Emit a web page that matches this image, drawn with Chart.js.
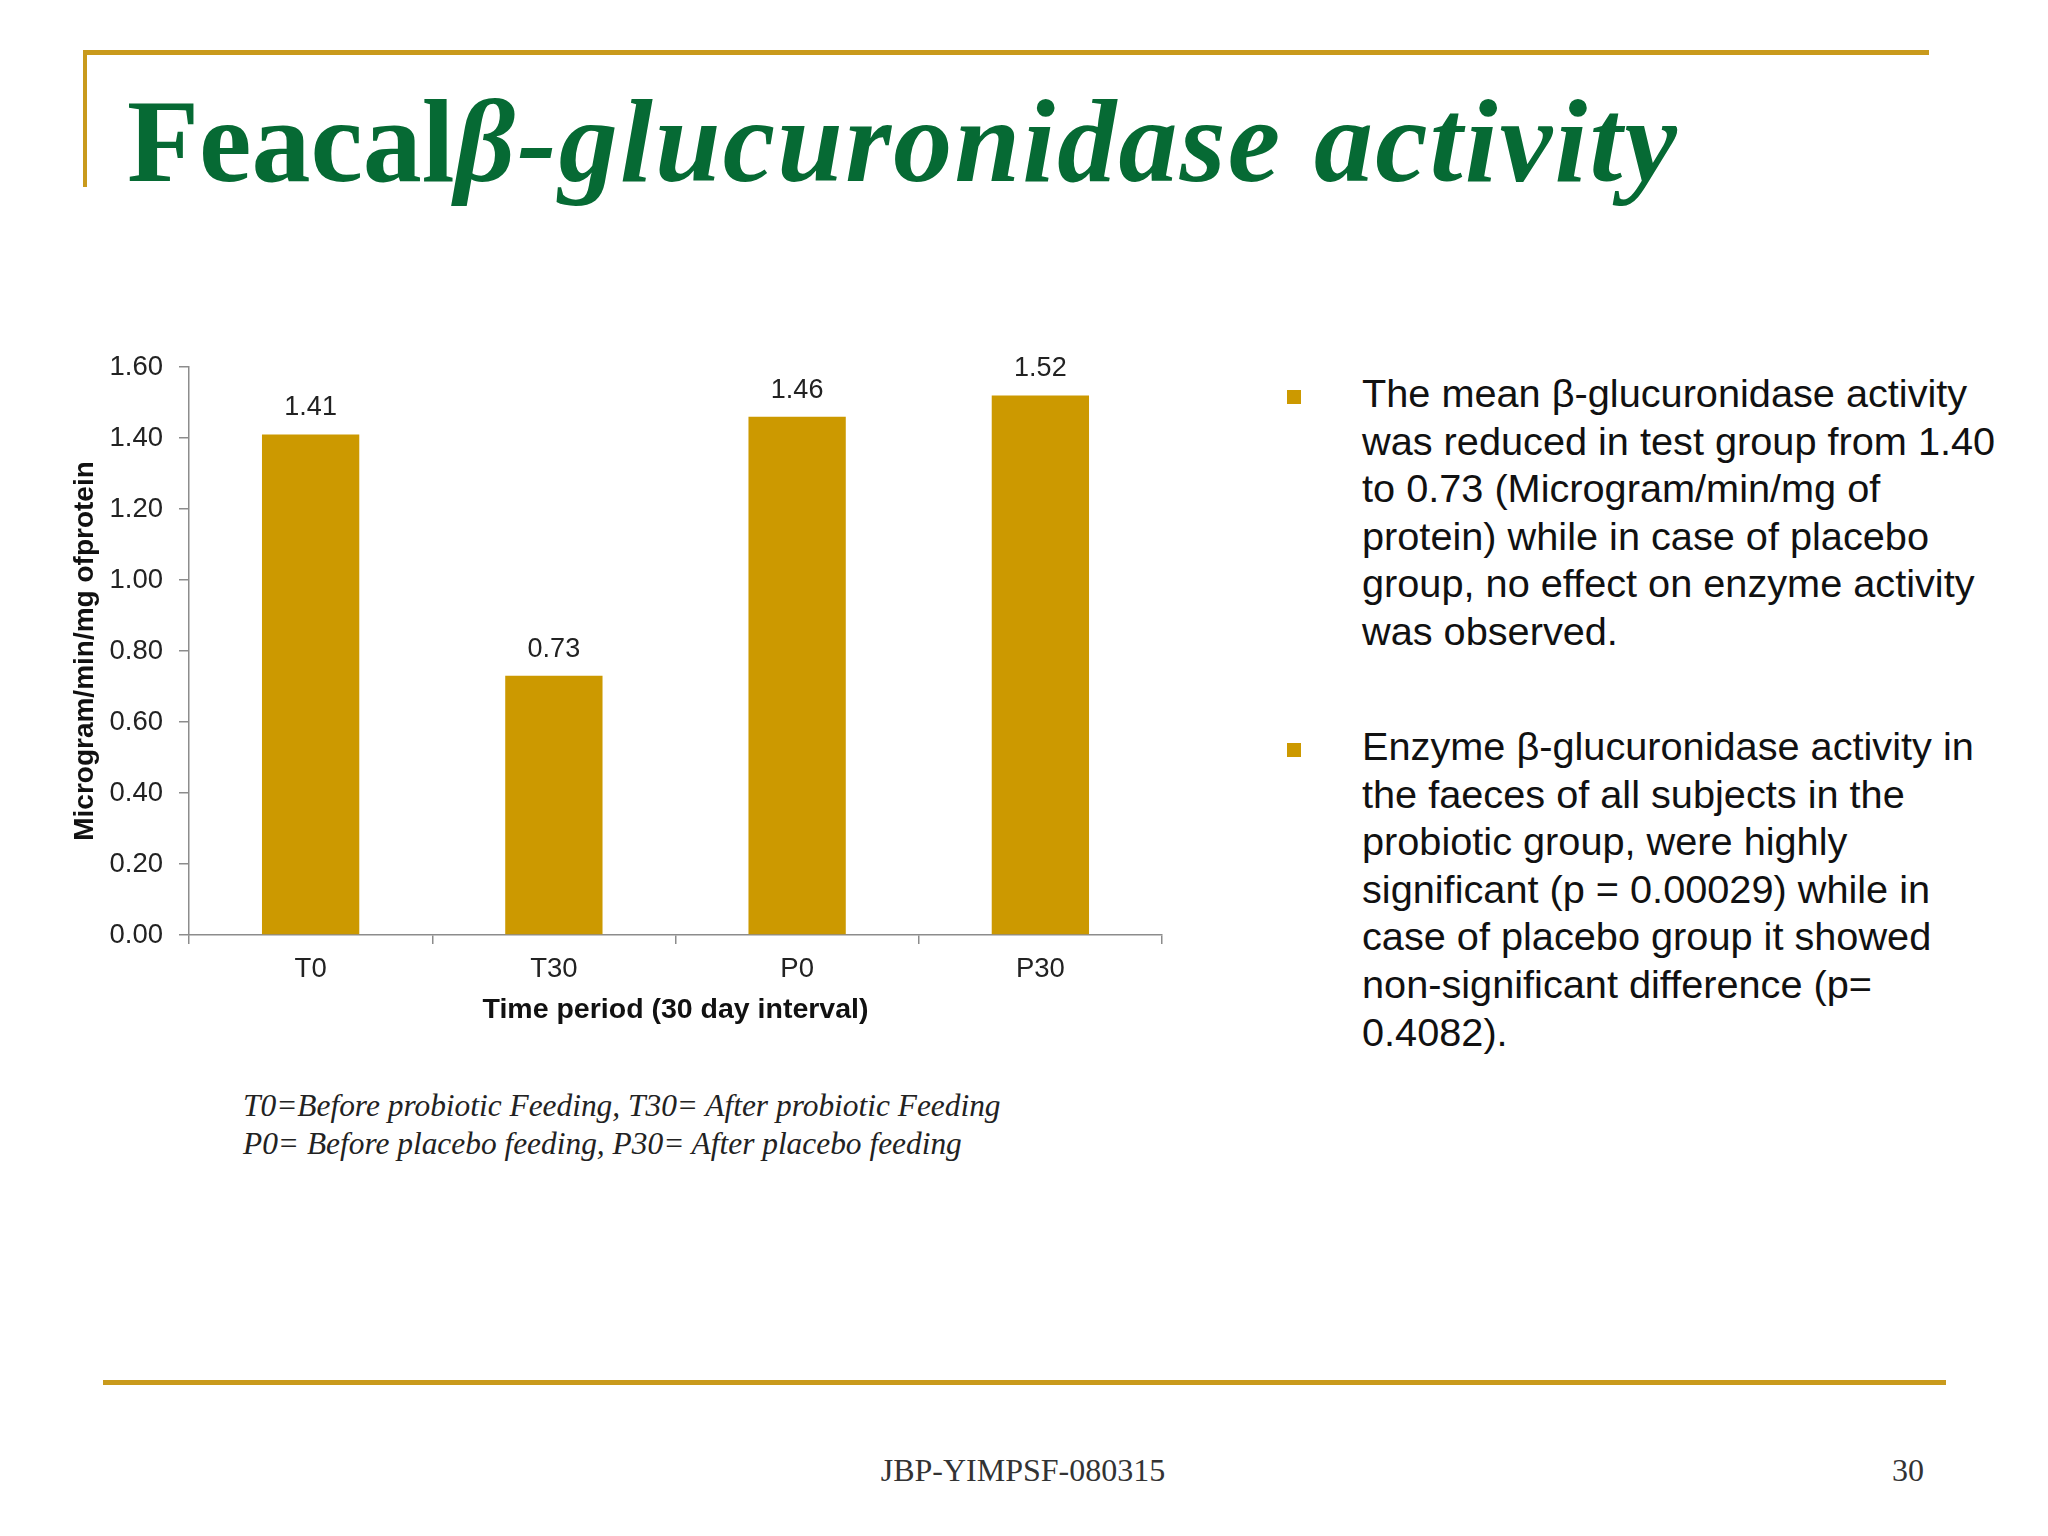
<!DOCTYPE html>
<html>
<head>
<meta charset="utf-8">
<script src="https://cdn.jsdelivr.net/npm/chart.js@4.4.1/dist/chart.umd.min.js"></script>
<style>
  html, body { margin: 0; padding: 0; background: #fff; }
  body { width: 2048px; height: 1536px; position: relative; overflow: hidden; }
  .rule { position: absolute; background: #c99a1c; }
  #title {
    position: absolute; left: 127px; top: 72px; margin: 0;
    font-family: "Liberation Serif", "Times New Roman", serif;
    font-weight: bold; font-size: 118px; line-height: 140px;
    color: #066a34; white-space: nowrap;
  }
  #title i { font-style: italic; letter-spacing: 2.2px; word-spacing: 0px; }
  #chartBox { position: absolute; left: 40px; top: 330px; }
  .bullets {
    position: absolute; left: 1362px; width: 680px;
    font-family: "Liberation Sans", Arial, sans-serif;
    font-size: 39.7px; line-height: 47.6px; color: #111; white-space: nowrap;
  }
  .sq { position: absolute; width: 14px; height: 14px; background: #cc9900; }
  .note {
    position: absolute; left: 243px; top: 1087px;
    font-family: "Liberation Serif", "Times New Roman", serif;
    font-style: italic; font-size: 31.4px; line-height: 38px; color: #222;
  }
  .foot {
    position: absolute; font-family: "Liberation Serif", "Times New Roman", serif;
    font-size: 32px; color: #333; top: 1452px;
  }
</style>
</head>
<body>
<div class="rule" style="left:85px; top:50px; width:1844px; height:5px;"></div>
<div class="rule" style="left:83px; top:50px; width:4px; height:137px;"></div>
<h1 id="title">Feacal<i>β-glucuronidase activity</i></h1>

<div id="chartBox"><canvas id="enzymeChart" width="1140" height="720"></canvas></div>

<div class="sq" style="left:1287px; top:390px;"></div>
<div class="bullets" style="top:370px;">The mean β-glucuronidase activity<br>was reduced in test group from 1.40<br>to 0.73 (Microgram/min/mg of<br>protein) while in case of placebo<br>group, no effect on enzyme activity<br>was observed.</div>

<div class="sq" style="left:1287px; top:743px;"></div>
<div class="bullets" style="top:723px;">Enzyme β-glucuronidase activity in<br>the faeces of all subjects in the<br>probiotic group, were highly<br>significant (p = 0.00029) while in<br>case of placebo group it showed<br>non-significant difference (p=<br>0.4082).</div>

<div class="note">T0=Before probiotic Feeding, T30= After probiotic Feeding<br>P0= Before placebo feeding, P30= After placebo feeding</div>

<div class="rule" style="left:103px; top:1380px; width:1843px; height:5px;"></div>
<div class="foot" style="left:860px; width:326px; text-align:center;">JBP-YIMPSF-080315</div>
<div class="foot" style="left:1824px; width:100px; text-align:right;">30</div>

<script>
// data
const periods = ['T0', 'T30', 'P0', 'P30'];
const activity = [1.41, 0.73, 1.46, 1.52];
const yTicks = [0, 0.2, 0.4, 0.6, 0.8, 1.0, 1.2, 1.4, 1.6];

const barColor = '#cc9900';
const axisColor = '#8c8c8c';
const labelFont = { family: 'Liberation Sans, Arial, sans-serif', size: 27.5 };

// value labels above each bar
const barLabels = {
  id: 'barLabels',
  afterDatasetsDraw(chart) {
    const ctx = chart.ctx;
    const meta = chart.getDatasetMeta(0);
    ctx.save();
    ctx.font = '27px "Liberation Sans", Arial, sans-serif';
    ctx.fillStyle = '#222';
    ctx.textAlign = 'center';
    ctx.textBaseline = 'alphabetic';
    meta.data.forEach((bar, i) => {
      ctx.fillText(activity[i].toFixed(2), bar.x, bar.y - 19);
    });
    ctx.restore();
  }
};

new Chart(document.getElementById('enzymeChart'), {
  type: 'bar',
  data: {
    labels: periods,
    datasets: [{
      data: activity,
      backgroundColor: barColor,
      borderWidth: 0,
      categoryPercentage: 1,
      barPercentage: 0.4
    }]
  },
  options: {
    responsive: false,
    animation: false,
    devicePixelRatio: 1,
    layout: { padding: { left: 0, right: 18, top: 37, bottom: 0 } },
    plugins: { legend: { display: false }, tooltip: { enabled: false } },
    scales: {
      x: {
        afterFit: s => { s.height = 115; },
        grid: { offset: true, drawOnChartArea: false, drawTicks: true, tickLength: 9, color: axisColor, lineWidth: 1.5 },
        border: { display: true, color: axisColor, width: 1.5 },
        ticks: { color: '#222', font: labelFont, padding: 9 },
        title: {
          display: true, text: 'Time period (30 day interval)', color: '#111',
          font: { family: 'Liberation Sans, Arial, sans-serif', size: 28.5, weight: 'bold' },
          padding: { top: 0, bottom: 23 }
        }
      },
      y: {
        min: 0, max: 1.6,
        afterFit: s => { s.width = 149; },
        afterBuildTicks: s => { s.ticks = yTicks.map(v => ({ value: v })); },
        grid: { drawOnChartArea: false, drawTicks: true, tickLength: 10, color: axisColor, lineWidth: 1.5 },
        border: { display: true, color: axisColor, width: 1.5 },
        ticks: { color: '#222', font: labelFont, padding: 16, callback: v => Number(v).toFixed(2) },
        title: {
          display: true, text: 'Microgram/min/mg ofprotein', color: '#111',
          font: { family: 'Liberation Sans, Arial, sans-serif', size: 28, weight: 'bold' },
          padding: { top: 28, bottom: 0 }
        }
      }
    }
  },
  plugins: [barLabels]
});
</script>
</body>
</html>
